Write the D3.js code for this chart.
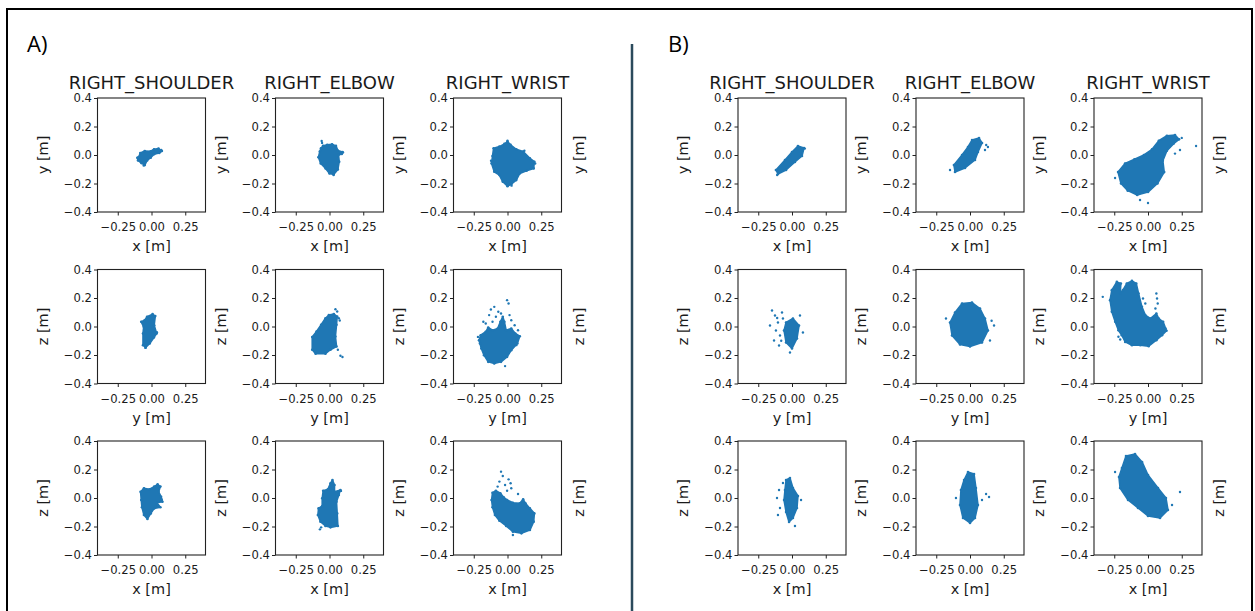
<!DOCTYPE html>
<html>
<head>
<meta charset="utf-8">
<script src="https://cdn.jsdelivr.net/npm/d3@7/dist/d3.min.js"></script>
<style>
  html, body { margin: 0; padding: 0; background: #fff; }
  svg { display: block; }
</style>
</head>
<body>
<script>
// ---------------- DATA ----------------
const panelNames = ["A)", "B)"];
const joints = ["RIGHT_SHOULDER", "RIGHT_ELBOW", "RIGHT_WRIST"];
const xLabels = ["x [m]", "y [m]", "x [m]"];   // per row
const yLabels = ["y [m]", "z [m]", "z [m]"];   // per row
const xTicks = [-0.25, 0.0, 0.25];
const yTicks = [-0.4, -0.2, 0.0, 0.2, 0.4];
const axisDomain = [-0.4, 0.4];

// Dense point-cloud outlines [horizontal, vertical] in metres
const A_SH_XY = [[-0.095,-0.014],[-0.083,0.014],[-0.050,0.028],[-0.006,0.026],[0.019,0.040],[0.052,0.045],[0.077,0.028],[0.057,0.014],[0.019,0.005],[-0.006,-0.019],[-0.032,-0.038],[-0.050,-0.071],[-0.075,-0.057],[-0.100,-0.038],[-0.105,-0.019]];
const A_SH_XY_PTS = [[-0.058,-0.074],[0.072,0.036]];
const A_EL_XY = [[-0.048,0.064],[-0.017,0.071],[0.019,0.075],[0.048,0.064],[0.062,0.031],[0.096,0.021],[0.091,0.007],[0.067,0.0],[0.072,-0.047],[0.062,-0.101],[0.031,-0.136],[0.0,-0.129],[-0.029,-0.094],[-0.065,-0.059],[-0.082,-0.016],[-0.072,0.024],[-0.063,0.047]];
const A_EL_XY_PTS = [[-0.058,0.099],[-0.055,0.085],[0.030,-0.140],[0.100,0.018]];
const A_WR_XY = [[-0.103,0.047],[-0.060,0.059],[-0.023,0.078],[0.0,0.094],[0.023,0.071],[0.065,0.040],[0.116,0.024],[0.166,-0.024],[0.199,-0.047],[0.194,-0.094],[0.141,-0.111],[0.091,-0.129],[0.065,-0.176],[0.028,-0.205],[0.0,-0.219],[-0.035,-0.188],[-0.060,-0.141],[-0.098,-0.118],[-0.118,-0.059],[-0.111,-0.007]];
const A_WR_XY_PTS = [[0.0,0.100],[0.205,-0.060],[0.030,-0.215],[-0.122,-0.040],[0.125,0.030]];

const A_SH_YZ = [[-0.033,0.068],[0.008,0.087],[0.028,0.073],[0.020,0.009],[0.038,-0.049],[0.018,-0.077],[-0.013,-0.119],[-0.043,-0.147],[-0.063,-0.131],[-0.063,-0.049],[-0.058,-0.002],[-0.076,0.033],[-0.051,0.044]];
const A_SH_YZ_PTS = [[-0.045,-0.150],[0.040,-0.040]];
const A_EL_YZ = [[-0.128,-0.074],[-0.096,-0.035],[-0.062,0.012],[-0.030,0.058],[-0.005,0.081],[0.032,0.088],[0.057,0.070],[0.052,0.012],[0.044,-0.070],[0.052,-0.140],[0.007,-0.163],[-0.030,-0.191],[-0.103,-0.191],[-0.128,-0.163]];
const A_EL_YZ_PTS = [[0.044,0.121],[0.057,0.105],[0.069,0.058],[0.062,-0.163],[0.081,-0.205],[0.096,-0.214],[0.076,0.042]];
const A_WR_YZ = [[-0.211,-0.096],[-0.199,-0.061],[-0.161,-0.037],[-0.143,-0.007],[-0.111,-0.026],[-0.073,-0.014],[-0.053,0.033],[-0.035,0.068],[-0.023,0.033],[-0.010,-0.026],[0.028,-0.014],[0.058,-0.049],[0.091,-0.068],[0.073,-0.119],[0.028,-0.166],[-0.003,-0.213],[-0.048,-0.248],[-0.098,-0.260],[-0.143,-0.248],[-0.174,-0.201],[-0.194,-0.154],[-0.204,-0.119]];
const A_WR_YZ_PTS = [[-0.003,0.185],[0.008,0.161],[-0.098,0.138],[-0.123,0.119],[-0.068,0.103],[-0.136,0.080],[-0.048,0.091],[-0.086,0.068],[-0.179,0.033],[-0.161,0.021],[0.015,0.080],[0.028,0.044],[0.053,0.009],[0.078,-0.026],[0.065,-0.131],[-0.018,-0.278],[-0.219,-0.073],[-0.111,0.033]];

const A_SH_XZ = [[-0.081,0.044],[-0.056,0.068],[-0.015,0.061],[0.020,0.080],[0.045,0.096],[0.066,0.080],[0.053,0.044],[0.071,0.009],[0.081,-0.026],[0.040,-0.033],[0.066,-0.065],[0.020,-0.073],[-0.005,-0.108],[-0.030,-0.147],[-0.056,-0.119],[-0.071,-0.065],[-0.076,-0.014]];
const A_SH_XZ_PTS = [[0.075,-0.010],[0.030,-0.060]];
const A_EL_XZ = [[-0.047,0.051],[-0.012,0.061],[0.007,0.103],[0.022,0.126],[0.037,0.091],[0.037,0.044],[0.081,0.056],[0.069,0.021],[0.052,-0.026],[0.057,-0.108],[0.062,-0.196],[0.007,-0.206],[-0.030,-0.196],[-0.067,-0.166],[-0.086,-0.119],[-0.081,-0.073],[-0.054,-0.056],[-0.054,-0.002]];
const A_EL_XZ_PTS = [[-0.071,-0.220],[-0.062,-0.206],[0.085,0.050]];
const A_WR_XZ = [[-0.111,0.037],[-0.086,0.051],[-0.053,0.033],[-0.028,0.005],[-0.003,-0.014],[0.040,-0.033],[0.091,-0.037],[0.116,-0.009],[0.133,-0.037],[0.166,-0.073],[0.199,-0.108],[0.194,-0.166],[0.166,-0.225],[0.103,-0.248],[0.040,-0.236],[-0.010,-0.196],[-0.060,-0.159],[-0.093,-0.119],[-0.111,-0.065],[-0.118,-0.014]];
const A_WR_XZ_PTS = [[-0.048,0.185],[-0.035,0.154],[0.008,0.131],[0.023,0.103],[-0.060,0.115],[-0.018,0.091],[0.028,0.068],[-0.073,0.080],[-0.003,0.051],[0.040,-0.260],[0.078,0.028]];

const B_SH_XY = [[-0.104,-0.133],[-0.119,-0.105],[-0.052,-0.035],[0.0,0.021],[0.044,0.063],[0.089,0.049],[0.074,-0.007],[0.022,-0.049],[-0.044,-0.105]];
const B_SH_XY_PTS = [[-0.110,-0.140],[0.095,0.045]];
const B_EL_XY = [[-0.111,-0.119],[-0.119,-0.070],[-0.059,0.0],[-0.015,0.056],[0.015,0.105],[0.067,0.119],[0.089,0.084],[0.059,0.021],[0.037,-0.035],[-0.037,-0.091]];
const B_EL_XY_PTS = [[0.133,0.056],[0.111,0.035],[-0.148,-0.105],[0.120,0.070]];
const B_WR_XY = [[-0.222,-0.119],[-0.170,-0.060],[-0.100,-0.030],[-0.030,0.0],[0.030,0.040],[0.080,0.100],[0.140,0.135],[0.200,0.140],[0.230,0.110],[0.190,0.080],[0.140,0.030],[0.110,-0.040],[0.120,-0.120],[0.070,-0.200],[0.0,-0.260],[-0.080,-0.280],[-0.150,-0.250],[-0.200,-0.200]];
const B_WR_XY_PTS = [[0.0,-0.337],[0.356,0.063],[-0.244,-0.161],[0.237,0.035],[-0.059,-0.316],[0.250,0.120],[0.160,0.060],[0.200,0.010]];

const B_SH_YZ = [[-0.044,0.028],[0.007,0.056],[0.052,0.007],[0.037,-0.084],[0.0,-0.154],[-0.044,-0.112],[-0.059,-0.028]];
const B_SH_YZ_PTS = [[-0.148,0.112],[-0.126,0.077],[-0.104,0.028],[-0.119,-0.028],[-0.089,-0.063],[-0.133,-0.098],[-0.096,-0.133],[-0.067,0.056],[-0.163,0.007],[-0.074,0.098],[0.059,0.077],[0.081,-0.042],[-0.015,-0.182],[-0.110,0.060],[-0.080,-0.100]];
const B_EL_YZ = [[-0.111,0.098],[-0.059,0.161],[0.015,0.168],[0.074,0.126],[0.111,0.056],[0.133,-0.028],[0.089,-0.112],[0.0,-0.140],[-0.074,-0.126],[-0.133,-0.063],[-0.148,0.028]];
const B_EL_YZ_PTS = [[0.178,0.007],[-0.178,0.056],[0.148,-0.098],[0.160,0.040]];
const B_WR_YZ = [[-0.281,0.185],[-0.268,0.255],[-0.231,0.313],[-0.201,0.302],[-0.206,0.232],[-0.186,0.255],[-0.157,0.302],[-0.119,0.320],[-0.087,0.302],[-0.070,0.232],[-0.045,0.138],[-0.020,0.080],[0.017,0.056],[0.062,0.091],[0.080,0.056],[0.112,0.033],[0.137,-0.030],[0.104,-0.061],[0.062,-0.096],[0.005,-0.138],[-0.057,-0.131],[-0.119,-0.131],[-0.169,-0.108],[-0.194,-0.061],[-0.219,-0.026],[-0.243,0.033],[-0.268,0.103]];
const B_WR_YZ_PTS = [[-0.335,0.208],[0.062,0.232],[0.067,0.196],[0.072,0.161],[0.055,0.126],[-0.219,-0.072],[-0.206,-0.091],[-0.037,0.196],[-0.020,0.161],[0.130,-0.014]];

const B_SH_XZ = [[-0.044,0.126],[-0.015,0.140],[0.007,0.070],[0.044,0.014],[0.037,-0.070],[0.007,-0.140],[-0.022,-0.168],[-0.044,-0.098],[-0.059,-0.014],[-0.052,0.056]];
const B_SH_XZ_PTS = [[-0.096,0.056],[-0.111,0.0],[-0.089,-0.070],[-0.104,-0.119],[-0.067,0.105],[0.067,-0.014],[0.022,-0.196]];
const B_EL_XZ = [[-0.044,0.126],[-0.015,0.182],[0.030,0.168],[0.044,0.070],[0.059,-0.049],[0.037,-0.140],[0.0,-0.175],[-0.052,-0.140],[-0.074,-0.049],[-0.067,0.056]];
const B_EL_XZ_PTS = [[0.119,0.028],[0.141,0.007],[-0.104,0.0],[0.089,-0.014]];
const B_WR_XZ = [[-0.193,0.211],[-0.163,0.295],[-0.096,0.309],[-0.044,0.253],[0.0,0.161],[0.074,0.070],[0.133,0.0],[0.148,-0.084],[0.089,-0.140],[0.0,-0.126],[-0.074,-0.070],[-0.148,-0.014],[-0.207,0.070],[-0.215,0.147]];
const B_WR_XZ_PTS = [[0.237,0.042],[-0.244,0.182],[0.178,-0.049]];

// table built from the arrays above: [panel][row][col]
const cloudShapes = [
  [[A_SH_XY, A_EL_XY, A_WR_XY], [A_SH_YZ, A_EL_YZ, A_WR_YZ], [A_SH_XZ, A_EL_XZ, A_WR_XZ]],
  [[B_SH_XY, B_EL_XY, B_WR_XY], [B_SH_YZ, B_EL_YZ, B_WR_YZ], [B_SH_XZ, B_EL_XZ, B_WR_XZ]]
];
const cloudPoints = [
  [[A_SH_XY_PTS, A_EL_XY_PTS, A_WR_XY_PTS], [A_SH_YZ_PTS, A_EL_YZ_PTS, A_WR_YZ_PTS], [A_SH_XZ_PTS, A_EL_XZ_PTS, A_WR_XZ_PTS]],
  [[B_SH_XY_PTS, B_EL_XY_PTS, B_WR_XY_PTS], [B_SH_YZ_PTS, B_EL_YZ_PTS, B_WR_YZ_PTS], [B_SH_XZ_PTS, B_EL_XZ_PTS, B_WR_XZ_PTS]]
];

// ---------------- LAYOUT ----------------
const W = 1255, H = 611;
const panelLeft = [97.5, 738];
const panelLabelX = [27, 668];
const colStep = 178;
const rowTops = [98, 269.5, 441];
const fw = 108, fh = 114;
const FONT = "'DejaVu Sans', sans-serif";
const BLUE = "#1f77b4";
const INK = "#1a1a1a";

const svg = d3.select("body").append("svg").attr("width", W).attr("height", H);
svg.append("rect").attr("width", W).attr("height", H).attr("fill", "#fff");

// outer frame
svg.append("rect").attr("x", 7).attr("y", 9).attr("width", 1245).attr("height", 660)
  .attr("fill", "none").attr("stroke", "#000").attr("stroke-width", 2);
// divider
svg.append("line").attr("x1", 632).attr("x2", 632).attr("y1", 44).attr("y2", H)
  .attr("stroke", "#2b4a5c").attr("stroke-width", 2.5);

const fmtY = d3.format(".1f");
const fmtX = d3.format(".2f");

panelNames.forEach((pn, p) => {
  svg.append("text").attr("x", panelLabelX[p]).attr("y", 52)
    .attr("font-family", "'Open Sans', 'Liberation Sans', sans-serif")
    .attr("font-size", 22).attr("fill", "#000").text(pn);

  for (let r = 0; r < 3; r++) {
    for (let c = 0; c < 3; c++) {
      const left = panelLeft[p] + c * colStep;
      const top = rowTops[r];
      const x = d3.scaleLinear().domain(axisDomain).range([left, left + fw]);
      const y = d3.scaleLinear().domain(axisDomain).range([top + fh, top]);
      const g = svg.append("g");

      // point cloud: dense core + individual points
      const line = d3.line().x(d => x(d[0])).y(d => y(d[1])).curve(d3.curveLinearClosed);
      g.append("path").attr("d", line(cloudShapes[p][r][c]))
        .attr("fill", BLUE).attr("stroke", BLUE).attr("stroke-width", 1.6)
        .attr("stroke-linejoin", "round");
      g.selectAll("circle.v").data(cloudShapes[p][r][c]).join("circle")
        .attr("class", "v").attr("cx", d => x(d[0])).attr("cy", d => y(d[1]))
        .attr("r", 1.3).attr("fill", BLUE);
      g.selectAll("circle.o").data(cloudPoints[p][r][c]).join("circle")
        .attr("class", "o").attr("cx", d => x(d[0])).attr("cy", d => y(d[1]))
        .attr("r", 1.2).attr("fill", BLUE);

      // frame
      g.append("rect").attr("x", left).attr("y", top).attr("width", fw).attr("height", fh)
        .attr("fill", "none").attr("stroke", "#222").attr("stroke-width", 1.1);

      // axes
      const ax = g.append("g").attr("transform", `translate(0,${top + fh})`)
        .call(d3.axisBottom(x).tickValues(xTicks).tickFormat(fmtX).tickSize(3.5).tickPadding(7.5));
      const ay = g.append("g").attr("transform", `translate(${left},0)`)
        .call(d3.axisLeft(y).tickValues(yTicks).tickFormat(fmtY).tickSize(3.5).tickPadding(2));
      [ax, ay].forEach(a => {
        a.select(".domain").remove();
        a.selectAll("line").attr("stroke", "#222");
        a.selectAll("text").attr("font-family", FONT).attr("font-size", 11.6).attr("fill", INK);
      });

      // x label
      g.append("text").attr("x", left + fw / 2).attr("y", top + fh + 39)
        .attr("text-anchor", "middle").attr("font-family", FONT).attr("font-size", 14.5)
        .attr("fill", INK).text(xLabels[r]);
      // y label (left)
      g.append("text").attr("transform", `translate(${left - 50},${top + fh / 2}) rotate(-90)`)
        .attr("text-anchor", "middle").attr("font-family", FONT).attr("font-size", 14.5)
        .attr("fill", INK).text(yLabels[r]);
      // title
      if (r === 0) {
        g.append("text").attr("x", left + fw / 2).attr("y", top - 9)
          .attr("text-anchor", "middle").attr("font-family", FONT).attr("font-size", 18)
          .attr("fill", INK).text(joints[c]);
      }
      // extra label on the right of the last column
      if (c === 2) {
        g.append("text").attr("transform", `translate(${left + fw + 22},${top + fh / 2}) rotate(-90)`)
          .attr("text-anchor", "middle").attr("font-family", FONT).attr("font-size", 14.5)
          .attr("fill", INK).text(yLabels[r]);
      }
    }
  }
});
</script>
</body>
</html>
